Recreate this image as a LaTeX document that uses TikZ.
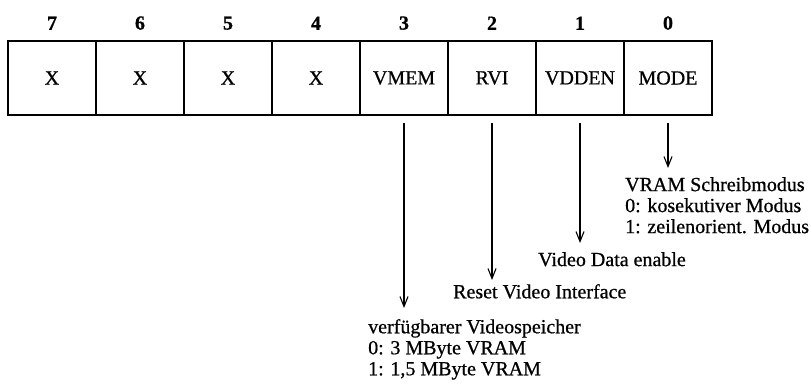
\documentclass[tikz,border=0pt]{standalone}
\usepackage{fontspec}
\setmainfont{Liberation Serif}[FakeBold=0.7]
\usetikzlibrary{arrows.meta,positioning}

\begin{document}
\begin{tikzpicture}[x=1pt, y=-1pt, >={Straight Barb[length=10pt,width=8pt]}, font=\fontsize{20}{21}\selectfont]
    \tikzstyle{cell}=[draw, line width=1.2pt, minimum width=88pt, minimum height=74pt, inner sep=0pt, outer sep=0pt]
    \tikzstyle{bit}=[inner sep=0pt, font=\fontsize{20}{21}\selectfont\bfseries]
    \tikzstyle{info}=[anchor=north west, align=left, inner sep=0pt]
    \tikzstyle{sig}=[->, line width=1.1pt, shorten <=8pt]

    \useasboundingbox (0,0) rectangle (811,385);

    % register cells, bit 7 to bit 0
    \node[cell] (x7) at (52,78) {X};
    \node[cell, right=0pt of x7] (x6) {X};
    \node[cell, right=0pt of x6] (x5) {X};
    \node[cell, right=0pt of x5] (x4) {X};
    \node[cell, right=0pt of x4] (vmem) {VMEM};
    \node[cell, right=0pt of vmem] (rvi) {RVI};
    \node[cell, right=0pt of rvi] (vdden) {VDDEN};
    \node[cell, right=0pt of vdden] (mode) {MODE};

    % bit numbers
    \node[bit, above=11pt of x7] (b7) {7};
    \node[bit, above=11pt of x6] (b6) {6};
    \node[bit, above=11pt of x5] (b5) {5};
    \node[bit, above=11pt of x4] (b4) {4};
    \node[bit, above=11pt of vmem] (b3) {3};
    \node[bit, above=11pt of rvi] (b2) {2};
    \node[bit, above=11pt of vdden] (b1) {1};
    \node[bit, above=11pt of mode] (b0) {0};

    % descriptions
    \node[info] (lblmode) at (625,177) {VRAM Schreibmodus\\0: kosekutiver Modus\\1: zeilenorient. Modus};
    \node[info] (lblvdden) at (538,252) {Video Data enable};
    \node[info] (lblrvi) at (453,284) {Reset Video Interface};
    \node[info] (lblvmem) at (368,319) {verfügbarer Videospeicher\\0: 3 MByte VRAM\\1: 1,5 MByte VRAM};

    \path (mode.south) ++(0,53) coordinate (tipmode);
    \path (vdden.south) ++(0,128) coordinate (tipvdden);
    \path (rvi.south) ++(0,165) coordinate (tiprvi);
    \path (vmem.south) ++(0,193) coordinate (tipvmem);

    \draw[sig] (mode) -- (tipmode);
    \draw[sig] (vdden) -- (tipvdden);
    \draw[sig] (rvi) -- (tiprvi);
    \draw[sig] (vmem) -- (tipvmem);
\end{tikzpicture}
\end{document}
